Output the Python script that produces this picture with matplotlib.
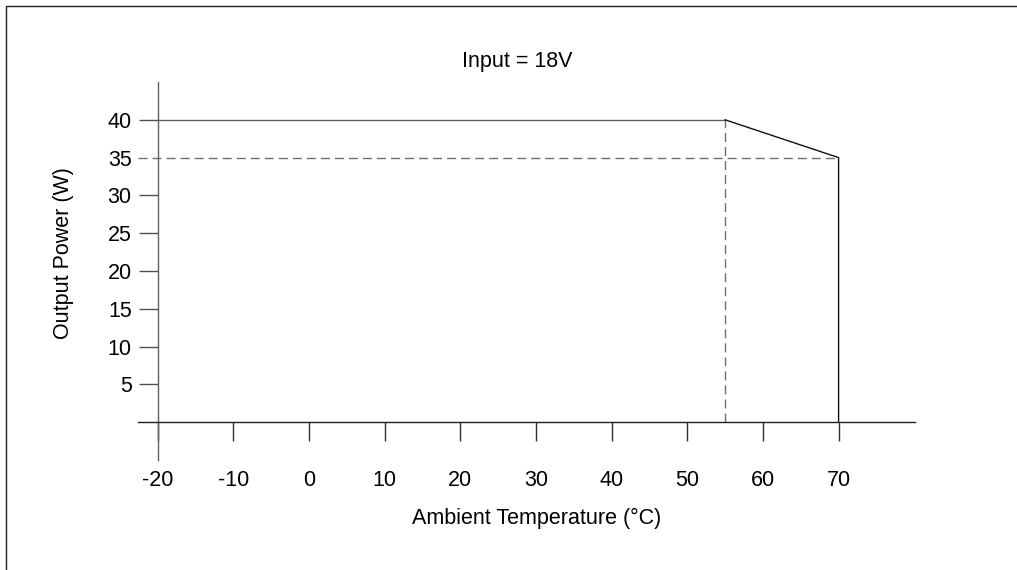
import matplotlib
matplotlib.use("Agg")
import matplotlib.pyplot as plt
from matplotlib.patches import Rectangle

plt.rcParams["font.family"] = ["Liberation Sans", "DejaVu Sans"]

# derating curve for input = 18V
curve_temp = [-20, 55, 70, 70]
curve_power = [40, 40, 35, 0]

# reference (dashed) lines
ref_power = 35
ref_temp = 55
max_temp = 70

x_ticks = [-20, -10, 0, 10, 20, 30, 40, 50, 60, 70]
y_ticks = [5, 10, 15, 20, 25, 30, 35, 40]

title = "Input = 18V"
x_label = "Ambient Temperature (°C)"
y_label = "Output Power (W)"

FS = 15.5
W, H = 1017, 570
fig = plt.figure(figsize=(W / 100, H / 100), dpi=100)

# frame around the figure (only top and left edges visible)
fig.patches.append(Rectangle((6 / W, -0.1), 1.2, 1 - 6 / H + 0.1,
                             transform=fig.transFigure, fill=False,
                             edgecolor="#222222", linewidth=1.0))

# axes mapped to pixels: x 138..915, y 82..460
ax = fig.add_axes([138 / W, (H - 460) / H, (915 - 138) / W, (460 - 82) / H])
ax.set_xlim(-22.6, 80.1)
ax.set_ylim(-5.0, 45.0)
ax.patch.set_visible(False)

for s in ["top", "right"]:
    ax.spines[s].set_visible(False)
ax.spines["left"].set_position(("data", -20))
ax.spines["bottom"].set_position(("data", 0))
ax.spines["left"].set_color("#606060")
ax.spines["bottom"].set_color("#202020")
ax.spines["left"].set_linewidth(1.0)
ax.spines["bottom"].set_linewidth(1.0)

ax.set_xticks(x_ticks)
ax.set_xticklabels([str(v) for v in x_ticks])
ax.set_yticks(y_ticks)
ax.set_yticklabels([str(v) for v in y_ticks])
ax.tick_params(axis="x", direction="out", length=13.7, width=1.0,
               color="#303030", pad=20.5, labelsize=FS)
ax.tick_params(axis="y", direction="out", length=13.7, width=1.0,
               color="#505050", pad=5, labelsize=FS)
# the 35 tick is covered by the dashed line
ax.yaxis.get_major_ticks()[y_ticks.index(ref_power)].tick1line.set_visible(False)

dash = (6.5, 3.6)
ax.plot([-22.6, max_temp], [ref_power, ref_power], color="#707070",
        linewidth=1.0, dashes=dash)
ax.plot([ref_temp, ref_temp], [0, curve_power[1]], color="#707070",
        linewidth=1.0, dashes=dash)

ax.plot(curve_temp[:2], curve_power[:2], color="#606060", linewidth=1.0)
ax.plot(curve_temp[1:], curve_power[1:], color="#111111", linewidth=1.0)

fig.text(517 / W, 1 - 62 / H, title, ha="center", va="center", fontsize=FS)
fig.text(537 / W, 1 - 518 / H, x_label, ha="center", va="center", fontsize=FS)
fig.text(63 / W, 1 - 253 / H, y_label, ha="center", va="center",
         rotation=90, fontsize=FS)

fig.savefig("out.png", dpi=100)
